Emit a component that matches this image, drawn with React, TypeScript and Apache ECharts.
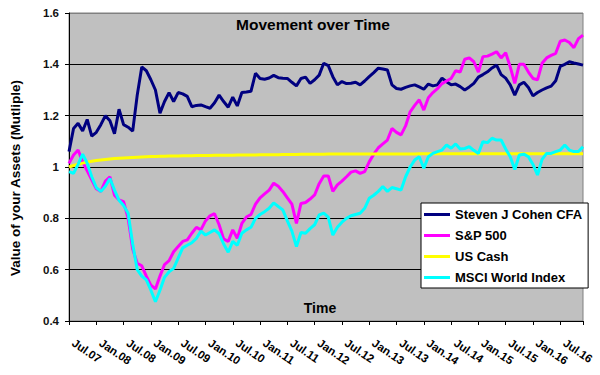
import React, { useEffect, useRef } from "react";
import * as echarts from "echarts";

const tickLabels = [
  "Jul.07", "Jan.08", "Jul.08", "Jan.09", "Jul.09", "Jan.10", "Jul.10", "Jan.11", "Jul.11", "Jan.12",
  "Jul.12", "Jan.13", "Jul.13", "Jan.14", "Jul.14", "Jan.15", "Jul.15", "Jan.16", "Jul.16",
];

const seriesNames = ["Steven J Cohen CFA", "S&P 500", "US Cash", "MSCI World Index"];

// monthly values, Jul 2007 onwards
const cohen = [
  1.06, 1.15, 1.17, 1.14, 1.185, 1.12, 1.135, 1.165, 1.2, 1.18,
  1.13, 1.225, 1.165, 1.155, 1.14, 1.28, 1.39, 1.375, 1.34, 1.3,
  1.21, 1.255, 1.29, 1.255, 1.29, 1.285, 1.275, 1.235, 1.24, 1.242,
  1.235, 1.229, 1.25, 1.28, 1.255, 1.233, 1.272, 1.238, 1.29, 1.292,
  1.295, 1.365, 1.345, 1.342, 1.347, 1.357, 1.348, 1.346, 1.345, 1.33,
  1.316, 1.345, 1.35, 1.326, 1.34, 1.358, 1.404, 1.395, 1.352, 1.32,
  1.333, 1.325, 1.326, 1.33, 1.32, 1.335, 1.352, 1.368, 1.385, 1.382,
  1.378, 1.32, 1.306, 1.303, 1.31, 1.316, 1.32, 1.312, 1.303, 1.323,
  1.316, 1.32, 1.346, 1.332, 1.32, 1.323, 1.313, 1.3, 1.312, 1.326,
  1.35, 1.36, 1.371, 1.386, 1.397, 1.36, 1.346, 1.32, 1.28, 1.32,
  1.33, 1.31, 1.277, 1.29, 1.3, 1.308, 1.315, 1.336, 1.392, 1.4,
  1.41, 1.405, 1.401, 1.397,
];

const sp500 = [
  1.014, 1.047, 1.066, 1.02, 0.985, 0.95, 0.915, 0.905, 0.945, 0.962,
  0.89, 0.872, 0.865, 0.8, 0.68, 0.625, 0.615, 0.575, 0.54, 0.525,
  0.575, 0.62, 0.635, 0.67, 0.69, 0.71, 0.716, 0.742, 0.765, 0.755,
  0.79, 0.81, 0.818, 0.775, 0.72, 0.71, 0.755, 0.722, 0.78, 0.805,
  0.815, 0.855, 0.88, 0.895, 0.91, 0.937, 0.925, 0.905, 0.88, 0.855,
  0.78, 0.858, 0.862, 0.875, 0.891, 0.935, 0.965, 0.965, 0.905, 0.93,
  0.945, 0.962, 0.98, 0.985, 0.975, 0.982, 1.02, 1.05, 1.075, 1.09,
  1.105, 1.15, 1.135, 1.125, 1.16, 1.215, 1.24, 1.262, 1.222, 1.27,
  1.29, 1.305, 1.325, 1.335, 1.345, 1.375, 1.37, 1.42, 1.425, 1.41,
  1.37, 1.43, 1.432, 1.44, 1.449, 1.425, 1.445, 1.39, 1.326, 1.4,
  1.4, 1.37, 1.345, 1.34, 1.404, 1.425, 1.435, 1.443, 1.49, 1.495,
  1.485, 1.465, 1.5, 1.514,
];

const usCash = [
  1.0, 1.006, 1.011, 1.015, 1.019, 1.022, 1.025, 1.027, 1.029, 1.031,
  1.033, 1.034, 1.035, 1.036, 1.037, 1.038, 1.039, 1.04, 1.041, 1.041,
  1.042, 1.042, 1.043, 1.043, 1.043, 1.044, 1.044, 1.044, 1.045, 1.045,
  1.045, 1.045, 1.046, 1.046, 1.046, 1.046, 1.046, 1.047, 1.047, 1.047,
  1.047, 1.047, 1.048, 1.048, 1.048, 1.048, 1.048, 1.049, 1.049, 1.049,
  1.049, 1.05, 1.05, 1.05, 1.05, 1.05, 1.05, 1.051, 1.051, 1.051,
  1.051, 1.051, 1.051, 1.051, 1.051, 1.051, 1.051, 1.051, 1.051, 1.051,
  1.051, 1.051, 1.051, 1.051, 1.051, 1.051, 1.051, 1.052, 1.052, 1.052,
  1.052, 1.052, 1.052, 1.052, 1.052, 1.052, 1.052, 1.052, 1.052, 1.052,
  1.052, 1.052, 1.052, 1.052, 1.052, 1.052, 1.052, 1.052, 1.052, 1.052,
  1.052, 1.052, 1.052, 1.052, 1.052, 1.052, 1.052, 1.052, 1.052, 1.052,
  1.052, 1.052, 1.052, 1.052,
];

const msci = [
  0.982, 0.975, 1.01, 1.05, 1.015, 0.962, 0.92, 0.905, 0.925, 0.955,
  0.91, 0.87, 0.85, 0.82, 0.7, 0.6, 0.575, 0.56, 0.52, 0.475,
  0.52, 0.57, 0.592, 0.605, 0.645, 0.685, 0.695, 0.705, 0.722, 0.75,
  0.735, 0.745, 0.755, 0.74, 0.7, 0.668, 0.71, 0.695, 0.742, 0.755,
  0.765, 0.8, 0.815, 0.826, 0.839, 0.86, 0.846, 0.833, 0.79, 0.75,
  0.69, 0.745, 0.742, 0.76, 0.775, 0.813, 0.82, 0.805, 0.735, 0.765,
  0.785, 0.8, 0.81, 0.815, 0.82, 0.839, 0.878, 0.89, 0.905, 0.924,
  0.905, 0.92, 0.915, 0.91, 0.962, 1.0, 1.027, 1.04, 0.995, 1.04,
  1.053, 1.06, 1.066, 1.086, 1.073, 1.09, 1.07, 1.072, 1.079, 1.065,
  1.053, 1.099, 1.095, 1.112, 1.105, 1.105, 1.07, 1.04, 0.99, 1.047,
  1.05, 1.04, 1.01, 0.969, 1.03, 1.053, 1.053, 1.06, 1.066, 1.086,
  1.066, 1.06, 1.06, 1.079,
];

const seriesValues = [cohen, sp500, usCash, msci];
const seriesColors = ["#000080", "#FF00FF", "#FFFF00", "#00FFFF"];

const FONT = "'Liberation Sans', Arial, sans-serif";

export default function App() {
  const ref = useRef<HTMLDivElement>(null);

  useEffect(() => {
    document.body.style.margin = "0";
    if (!ref.current) return;
    const chart = echarts.init(ref.current, undefined, { renderer: "svg" });
    const lastIndex = cohen.length - 1;
    chart.setOption({
      animation: false,
      grid: {
        left: 69,
        right: 17,
        top: 13,
        bottom: 54,
        show: true,
        backgroundColor: "#C0C0C0",
        borderColor: "#808080",
        borderWidth: 1,
      },
      graphic: [
        {
          type: "text",
          x: 313,
          y: 24,
          style: {
            text: "Movement over Time",
            font: `bold 15.5px ${FONT}`,
            fill: "#000",
            align: "center",
            verticalAlign: "middle",
          },
          z: 10,
        },
        {
          type: "text",
          x: 320,
          y: 308,
          style: {
            text: "Time",
            font: `bold 14px ${FONT}`,
            fill: "#000",
            align: "center",
            verticalAlign: "middle",
          },
          z: 10,
        },
        {
          type: "text",
          x: 15,
          y: 178,
          rotation: Math.PI / 2,
          style: {
            text: "Value of your Assets (Mutliple)",
            font: `bold 13.5px ${FONT}`,
            fill: "#000",
            align: "center",
            verticalAlign: "middle",
          },
        },
      ],
      legend: {
        orient: "vertical",
        left: 421,
        top: 203,
        data: seriesNames,
        icon: "rect",
        itemWidth: 26,
        itemHeight: 3,
        itemGap: 6,
        padding: [4, 6, 3, 3],
        backgroundColor: "#FFFFFF",
        borderColor: "#000000",
        borderWidth: 1,
        textStyle: {
          fontFamily: FONT,
          fontSize: 13,
          fontWeight: "bold",
          color: "#000",
          lineHeight: 15,
        },
      },
      xAxis: {
        type: "value",
        min: 0,
        max: lastIndex,
        interval: 6,
        axisLine: { show: true, lineStyle: { color: "#000", width: 1 } },
        axisTick: { show: true, length: 4, lineStyle: { color: "#000" } },
        splitLine: { show: false },
        axisLabel: {
          rotate: -34,
          margin: 18,
          padding: [0, 0, 0, 5],
          fontFamily: FONT,
          fontSize: 11.5,
          fontWeight: "bold",
          color: "#000",
          formatter: (v: number) => {
            const i = Math.round(v / 6);
            return v % 6 === 0 && i < tickLabels.length ? tickLabels[i] : "";
          },
        },
      },
      yAxis: {
        type: "value",
        min: 0.4,
        max: 1.6,
        interval: 0.2,
        axisLine: { show: true, lineStyle: { color: "#000", width: 1 } },
        axisTick: { show: true, length: 4, lineStyle: { color: "#000" } },
        splitLine: {
          show: true,
          lineStyle: {
            color: ["#000", "#000", "#000", "#000", "#000", "#000", "#808080"],
            width: 1,
          },
        },
        axisLabel: {
          margin: 10,
          fontFamily: FONT,
          fontSize: 11.5,
          fontWeight: "bold",
          color: "#111",
        },
      },
      series: seriesNames.map((name, s) => ({
        name,
        type: "line",
        data: seriesValues[s].map((v, i) => [i, v]),
        showSymbol: false,
        symbol: "none",
        color: seriesColors[s],
        lineStyle: { color: seriesColors[s], width: 3 },
      })),
    });
    return () => chart.dispose();
  }, []);

  return <div ref={ref} style={{ width: 600, height: 375 }} />;
}
